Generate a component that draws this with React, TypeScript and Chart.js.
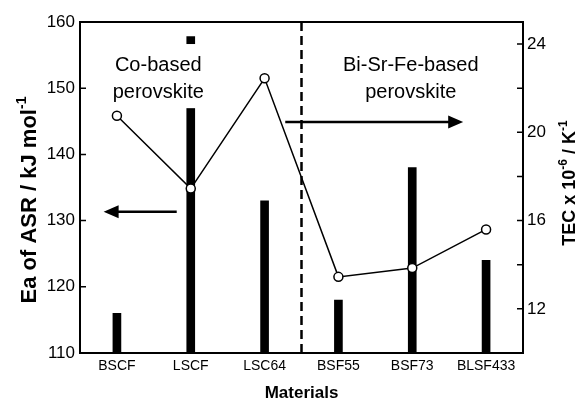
import React, { useEffect, useRef } from "react";
import { Chart, registerables } from "chart.js";

Chart.register(...registerables);

// ---- data ----
const categories = ["BSCF", "LSCF", "LSC64", "BSF55", "BSF73", "BLSF433"];
const eaValues = [116, 157.8, 133, 118, 138, 124]; // Ea of ASR (left axis, bars)
const tecValues = [20.75, 17.45, 22.45, 13.45, 13.85, 15.6]; // TEC (right axis, line)
const leftTicks = [110, 120, 130, 140, 150, 160];
const rightTicks = [12, 16, 20, 24];
const rightMinorTicks = [14, 18, 22];
const groupLabels = [
  ["Co-based", "perovskite"],
  ["Bi-Sr-Fe-based", "perovskite"],
];

// annotation anchors in data units (category index, left-axis value)
const dividerAt = 2.5;
const groupLabelX = [0.56, 3.98];
const groupLabelY = [153.5, 149.4];
const leftArrow = { from: 0.81, to: -0.18, y: 131.35 };
const rightArrow = { from: 2.28, to: 4.69, y: 144.9 };

const FONT = "'Liberation Sans', Arial, Helvetica, sans-serif";

function drawRich(
  ctx: CanvasRenderingContext2D,
  parts: [string, boolean][],
  cx: number,
  cy: number,
  fs: number
) {
  ctx.save();
  ctx.translate(cx, cy);
  ctx.rotate(-Math.PI / 2);
  const supFs = Math.round(fs * 0.65);
  const widths = parts.map(([t, sup]) => {
    ctx.font = `bold ${sup ? supFs : fs}px ${FONT}`;
    return ctx.measureText(t).width;
  });
  const total = widths.reduce((a, b) => a + b, 0);
  let x = -total / 2;
  const base = fs * 0.36;
  ctx.fillStyle = "#000";
  ctx.textBaseline = "alphabetic";
  ctx.textAlign = "left";
  parts.forEach(([t, sup], i) => {
    ctx.font = `bold ${sup ? supFs : fs}px ${FONT}`;
    ctx.fillText(t, x, sup ? base - fs * 0.45 : base);
    x += widths[i];
  });
  ctx.restore();
}

function arrow(ctx: CanvasRenderingContext2D, x1: number, x2: number, y: number) {
  const dir = Math.sign(x2 - x1);
  const head = 15;
  ctx.save();
  ctx.strokeStyle = "#000";
  ctx.fillStyle = "#000";
  ctx.lineWidth = 2.5;
  ctx.beginPath();
  ctx.moveTo(x1, y);
  ctx.lineTo(x2 - dir * head * 0.8, y);
  ctx.stroke();
  ctx.beginPath();
  ctx.moveTo(x2, y);
  ctx.lineTo(x2 - dir * head, y - 6.5);
  ctx.lineTo(x2 - dir * head, y + 6.5);
  ctx.closePath();
  ctx.fill();
  ctx.restore();
}

const decorPlugin = {
  id: "decor",
  afterDatasetsDraw(chart: any) {
    const ctx: CanvasRenderingContext2D = chart.ctx;
    const { left, right, top, bottom } = chart.chartArea;
    const xs = chart.scales.x;
    const ys = chart.scales.y;
    const y1 = chart.scales.y1;

    // divider
    const dx = xs.getPixelForValue(dividerAt);
    ctx.save();
    ctx.strokeStyle = "#000";
    ctx.lineWidth = 2.5;
    ctx.setLineDash([9, 5]);
    ctx.beginPath();
    ctx.moveTo(dx, top);
    ctx.lineTo(dx, bottom);
    ctx.stroke();
    ctx.restore();

    // group labels with white background
    groupLabels.forEach((lines, gi) => {
      const cx = xs.getPixelForValue(groupLabelX[gi]);
      const ya = ys.getPixelForValue(groupLabelY[0]);
      const yb = ys.getPixelForValue(groupLabelY[1]);
      ctx.save();
      ctx.font = `20px ${FONT}`;
      const w = Math.max(...lines.map((l) => ctx.measureText(l).width));
      ctx.fillStyle = "#fff";
      ctx.fillRect(cx - w / 2 - 4, ya - 21, w + 8, yb - ya + 37);
      ctx.fillStyle = "#000";
      ctx.textAlign = "center";
      ctx.textBaseline = "middle";
      ctx.fillText(lines[0], cx, ya);
      ctx.fillText(lines[1], cx, yb);
      ctx.restore();
    });

    // arrows
    arrow(ctx, xs.getPixelForValue(leftArrow.from), xs.getPixelForValue(leftArrow.to), ys.getPixelForValue(leftArrow.y));
    arrow(ctx, xs.getPixelForValue(rightArrow.from), xs.getPixelForValue(rightArrow.to), ys.getPixelForValue(rightArrow.y));
  },
  afterDraw(chart: any) {
    const ctx: CanvasRenderingContext2D = chart.ctx;
    const { left, right, top, bottom } = chart.chartArea;
    const ys = chart.scales.y;
    const y1 = chart.scales.y1;
    ctx.save();
    ctx.strokeStyle = "#000";
    ctx.lineWidth = 2;
    ctx.strokeRect(left, top, right - left, bottom - top);
    ctx.lineWidth = 1.5;
    ctx.beginPath();
    leftTicks.forEach((v) => {
      const p = ys.getPixelForValue(v);
      ctx.moveTo(left, p);
      ctx.lineTo(left + 6, p);
    });
    [...rightTicks, ...rightMinorTicks].forEach((v) => {
      const p = y1.getPixelForValue(v);
      ctx.moveTo(right, p);
      ctx.lineTo(right - 6, p);
    });
    ctx.stroke();
    ctx.restore();

    drawRich(ctx, [["Ea of ASR / kJ mol", false], ["-1", true]], 28, 200, 22);
    drawRich(
      ctx,
      [["TEC x 10", false], ["-6", true], [" / K", false], ["-1", true]],
      569,
      183,
      18
    );
  },
};

export default function App() {
  const ref = useRef<HTMLCanvasElement | null>(null);
  useEffect(() => {
    if (!ref.current) return;
    Chart.defaults.color = "#000";
    const chart = new Chart(ref.current, {
      type: "bar",
      data: {
        labels: categories,
        datasets: [
          {
            type: "line",
            label: "TEC",
            data: tecValues,
            yAxisID: "y1",
            borderColor: "#000",
            borderWidth: 1.5,
            pointRadius: 4.5,
            pointBorderWidth: 1.5,
            pointBackgroundColor: "#fff",
            pointBorderColor: "#000",
            tension: 0,
            order: 0,
          } as any,
          {
            type: "bar",
            label: "Ea",
            data: eaValues,
            yAxisID: "y",
            backgroundColor: "#000",
            barThickness: 8,
            order: 1,
          },
        ],
      },
      plugins: [decorPlugin],
      options: {
        responsive: false,
        animation: false,
        devicePixelRatio: 1,
        layout: { padding: { top: 22, left: 0, right: 0, bottom: 0 } },
        plugins: { legend: { display: false }, tooltip: { enabled: false } },
        scales: {
          x: {
            grid: { display: false, drawTicks: false },
            border: { display: false },
            ticks: { font: { family: FONT, size: 14 }, padding: 5, color: "#000", maxRotation: 0 },
            title: {
              display: true,
              text: "Materials",
              font: { family: FONT, size: 17, weight: "bold", lineHeight: 1 },
              padding: { top: 0, bottom: 0 },
              color: "#000",
            },
            afterFit: (s: any) => {
              s.height = 49;
            },
          },
          y: {
            position: "left",
            min: 110,
            max: 160,
            grid: { display: false, drawTicks: false },
            border: { display: false },
            ticks: { font: { family: FONT, size: 17 }, padding: 5, color: "#000" },
            afterBuildTicks: (s: any) => {
              s.ticks = leftTicks.map((v) => ({ value: v }));
            },
            afterFit: (s: any) => {
              s.width = 80;
            },
          },
          y1: {
            position: "right",
            min: 10,
            max: 25,
            grid: { display: false, drawTicks: false },
            border: { display: false },
            ticks: { font: { family: FONT, size: 17 }, padding: 4, color: "#000" },
            afterBuildTicks: (s: any) => {
              s.ticks = rightTicks.map((v) => ({ value: v }));
            },
            afterFit: (s: any) => {
              s.width = 56;
            },
          },
        },
      },
    });
    return () => chart.destroy();
  }, []);
  return (
    <div style={{ position: "fixed", left: 0, top: 0, width: 579, height: 402, background: "#fff" }}>
      <canvas ref={ref} width={579} height={402} />
    </div>
  );
}
